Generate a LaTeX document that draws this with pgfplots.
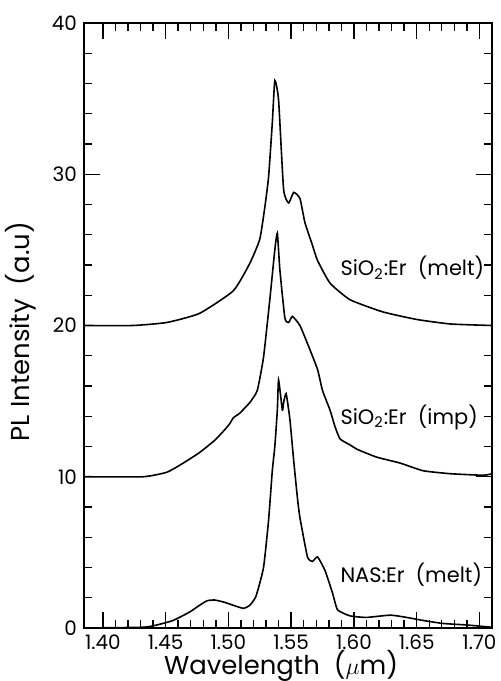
\documentclass[border=0pt]{standalone}
\usepackage{pgfplots}
\pgfplotsset{compat=1.18}
\usepackage{fontspec}
\setmainfont{Poppins}
\usetikzlibrary{calc}
\begin{document}
\begin{tikzpicture}
\begin{axis}[
  scale only axis, width=204bp, height=302.5bp,
  xmin=1.385, xmax=1.71, ymin=0, ymax=40,
  xtick={1.40,1.45,1.50,1.55,1.60,1.65,1.70},
  ytick={0,10,20,30,40},
  minor x tick num=4, minor y tick num=4,
  major tick length=8bp, minor tick length=4bp,
  tick style={black, line width=0.7bp},
  axis line style={line width=0.9bp},
  /pgf/number format/assume math mode=true,
  xticklabel style={/pgf/number format/.cd, fixed, fixed zerofill, precision=2},
  ticklabel style={font=\fontsize{10}{11}\selectfont},
  xlabel={Wavelength\ \ ($\mu$m)},
  ylabel={PL Intensity\ \ (a.u)},
  label style={font=\fontsize{13}{14}\selectfont},
  xlabel style={at={(axis description cs:0.483,0)}, anchor=base, yshift=-23bp},
  ylabel style={at={(axis description cs:-0.155,0.49)}, anchor=center},
  cycle list={{black}},
  every axis plot post/.append style={black, line width=0.8bp, smooth, tension=0.3, no markers},
]
% SiO2:Er (melt)
\addplot coordinates {
(1.385,20.0) (1.424,20.0) (1.451,20.2) (1.477,20.8) (1.504,22.3) (1.517,24.1)
(1.525,25.7) (1.529,27.8) (1.532,29.8) (1.535,33.4) (1.537,36.2) (1.540,34.9)
(1.544,29.0) (1.548,28.1) (1.552,28.8) (1.557,28.4) (1.561,26.8) (1.567,25.3)
(1.571,24.3) (1.581,22.8) (1.597,21.7) (1.623,20.9) (1.650,20.4) (1.677,20.1)
(1.710,20.0)};
% SiO2:Er (imp)
\addplot coordinates {
(1.385,10.0) (1.432,10.0) (1.451,10.3) (1.464,10.9) (1.477,11.6) (1.489,12.4)
(1.497,13.1) (1.501,13.5) (1.504,13.9) (1.509,14.2) (1.517,14.9) (1.523,15.7)
(1.528,17.9) (1.533,21.7) (1.537,25.0) (1.539,26.1) (1.541,23.7) (1.545,20.5)
(1.548,20.2) (1.551,20.6) (1.557,20.0) (1.564,18.6) (1.571,17.1) (1.575,15.7)
(1.581,14.4) (1.585,13.3) (1.589,12.5) (1.597,12.1) (1.603,11.8) (1.618,11.3)
(1.637,10.9) (1.655,10.4) (1.677,10.2) (1.703,10.1) (1.710,10.2)};
% NAS:Er (melt)
\addplot coordinates {
(1.385,0.0) (1.432,0.05) (1.443,0.2) (1.456,0.5) (1.469,1.05) (1.477,1.5)
(1.483,1.8) (1.489,1.85) (1.497,1.7) (1.504,1.5) (1.512,1.3) (1.517,1.5)
(1.522,2.1) (1.528,4.0) (1.532,7.1) (1.535,10.4) (1.537,12.0) (1.539,14.4)
(1.540,16.4) (1.543,14.4) (1.544,14.9) (1.546,15.5) (1.549,13.8) (1.552,11.1)
(1.555,8.6) (1.557,7.3) (1.563,4.7) (1.567,4.4) (1.571,4.7) (1.577,3.8)
(1.583,2.3) (1.587,1.2) (1.597,0.8) (1.610,0.7) (1.629,0.85) (1.642,0.7)
(1.655,0.5) (1.671,0.3) (1.690,0.2) (1.703,0.1) (1.710,0.05)};
\node[anchor=west, font=\fontsize{10.5}{12}\selectfont, inner sep=0pt] at (axis cs:1.589,23.8) {SiO\textsubscript{2}:Er\ \ (melt)};
\node[anchor=west, font=\fontsize{10.5}{12}\selectfont, inner sep=0pt] at (axis cs:1.589,13.95) {SiO\textsubscript{2}:Er\ \ (imp)};
\node[anchor=west, font=\fontsize{10.5}{12}\selectfont, inner sep=0pt] at (axis cs:1.589,3.5) {NAS:Er\ \ (melt)};
\end{axis}
\pgfresetboundingbox
\path ($(current axis.south west)+(-42bp,-26.5bp)$) rectangle ($(current axis.north east)+(4.5bp,11.5bp)$);
\end{tikzpicture}
\end{document}
